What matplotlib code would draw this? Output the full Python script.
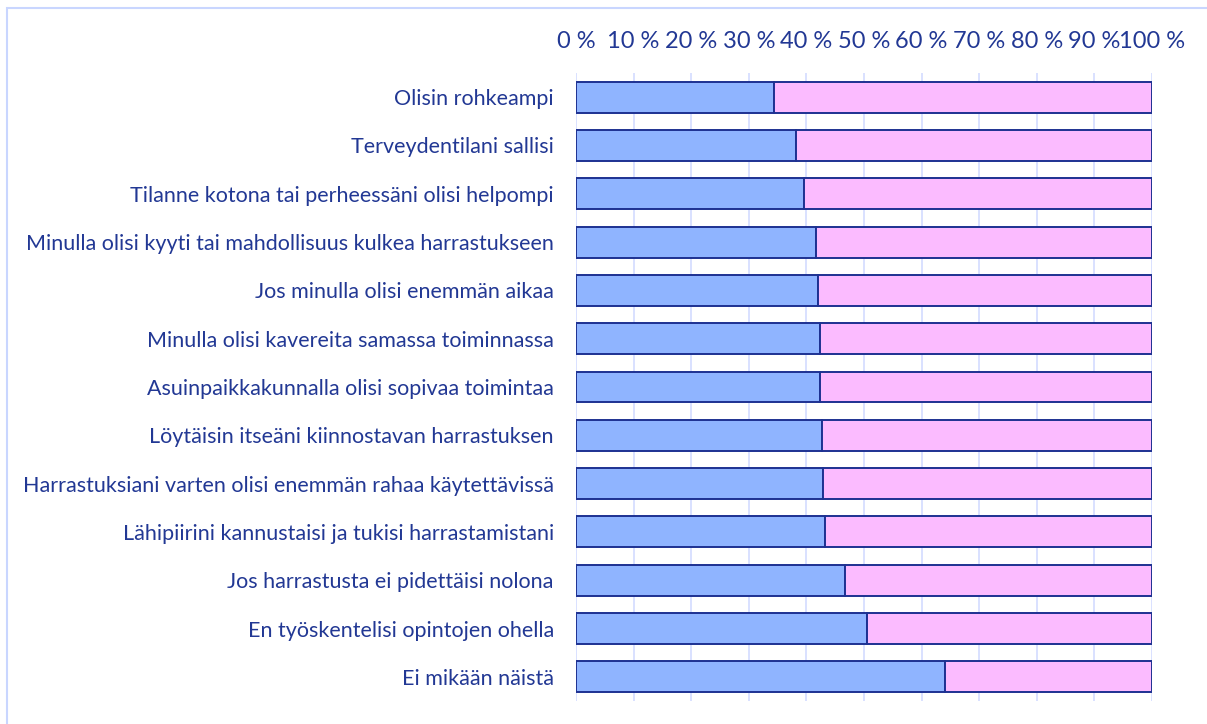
import matplotlib
matplotlib.use('Agg')
from matplotlib import pyplot as plt
from matplotlib.patches import Rectangle

categories = ['Olisin rohkeampi',
              'Terveydentilani sallisi',
              'Tilanne kotona tai perheessäni olisi helpompi',
              'Minulla olisi kyyti tai mahdollisuus kulkea harrastukseen',
              'Jos minulla olisi enemmän aikaa',
              'Minulla olisi kavereita samassa toiminnassa',
              'Asuinpaikkakunnalla olisi sopivaa toimintaa',
              'Löytäisin itseäni kiinnostavan harrastuksen',
              'Harrastuksiani varten olisi enemmän rahaa käytettävissä',
              'Lähipiirini kannustaisi ja tukisi harrastamistani',
              'Jos harrastusta ei pidettäisi nolona',
              'En työskentelisi opintojen ohella',
              'Ei mikään näistä']
blue_vals = [34.4, 38.2, 39.6, 41.6, 42.1, 42.4, 42.4, 42.7, 42.9, 43.2, 46.7, 50.5, 64.1]
pink_vals = [65.6, 61.8, 60.4, 58.4, 57.9, 57.6, 57.6, 57.3, 57.1, 56.8, 53.3, 49.5, 35.9]
ticks = [0, 10, 20, 30, 40, 50, 60, 70, 80, 90, 100]
tick_labels = ['0 %', '10 %', '20 %', '30 %', '40 %', '50 %', '60 %', '70 %', '80 %', '90 %', '100 %']

txt = '#223894'
edge = '#1d3192'

plt.rcParams['font.family'] = ['Lato', 'DejaVu Sans']

fig = plt.figure(figsize=(12.07, 7.24), dpi=100)
ax = fig.add_axes([576/1207, 1-701/724, 576/1207, 628/724])

y = list(range(len(categories)))
ax.barh(y, blue_vals, height=0.64, color='#8fb4ff', edgecolor=edge, linewidth=1.4, zorder=3)
ax.barh(y, pink_vals, left=blue_vals, height=0.64, color='#fbbbff', edgecolor=edge, linewidth=1.4, zorder=3)

ax.set_xlim(0, 100)
ax.set_ylim(len(categories)-0.5, -0.5)
ax.set_yticks(y)
ax.set_yticklabels(categories, fontsize=15.5, color=txt)
ax.set_xticks(ticks)
ax.set_xticklabels(tick_labels, fontsize=17, color=txt)
ax.xaxis.tick_top()
ax.tick_params(axis='x', length=0, pad=15)
ax.tick_params(axis='y', length=0, pad=16)
ax.grid(axis='x', color='#d3dcff', linewidth=1.2, zorder=0)
for s in ax.spines.values():
    s.set_visible(False)

# light border of the chart area
fig.patches.append(Rectangle((7/1207, -0.05), 1.1, 1-8/724+0.05, transform=fig.transFigure,
                             fill=False, edgecolor='#c9d6ff', linewidth=1.5))

plt.savefig('out.png', dpi=100)
